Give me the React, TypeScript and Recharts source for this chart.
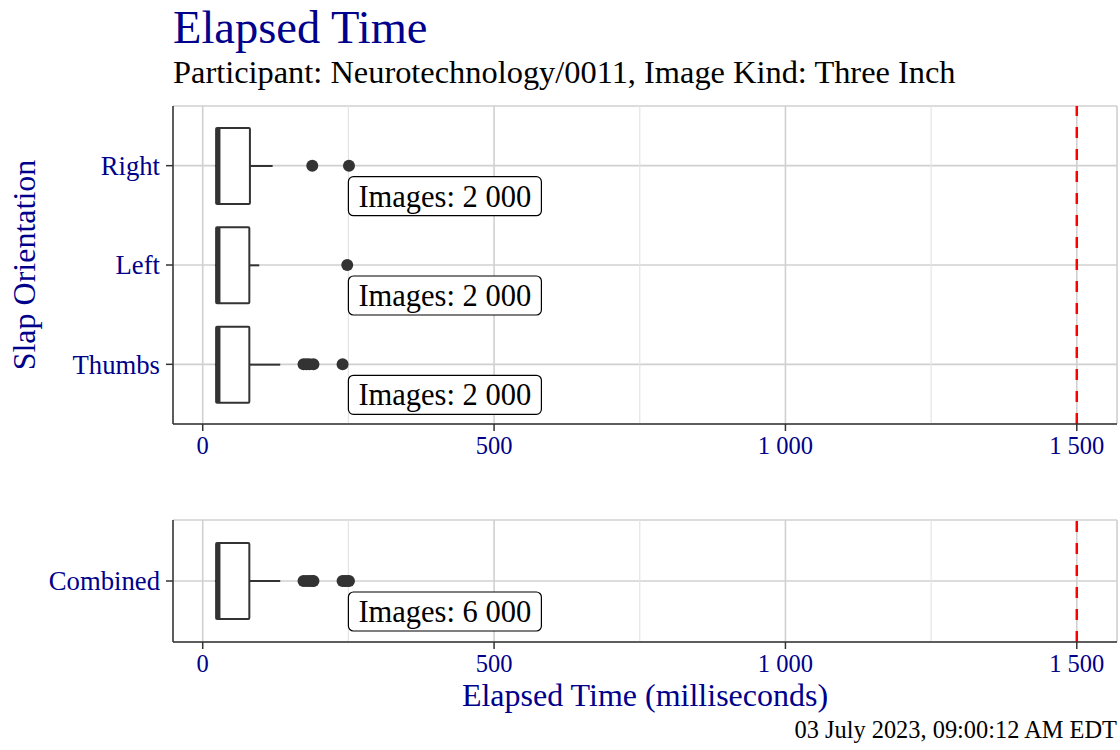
import {
  ComposedChart,
  Bar,
  XAxis,
  YAxis,
  CartesianGrid,
  ReferenceLine,
  ReferenceDot,
} from "recharts";

// slap orientation panel
const slapOrientations = ["Right", "Left", "Thumbs"];
const slapLower = [21, 21, 21];
const slapQ1 = [23, 23, 23];
const slapMedian = [27, 27, 27];
const slapQ3 = [81, 80, 80];
const slapUpper = [120, 97, 133];
const slapImages = [2000, 2000, 2000];
const rightOutliers = [188, 251];
const leftOutliers = [248];
const thumbsOutliers = [173, 178, 183, 190, 240];

// combined panel
const combinedCategory = ["Combined"];
const combinedLower = [21];
const combinedQ1 = [23];
const combinedMedian = [27];
const combinedQ3 = [80];
const combinedUpper = [133];
const combinedImages = [6000];
const combinedOutliers = [173, 178, 183, 188, 190, 240, 244, 248, 251];

const xTicks = [0, 500, 1000, 1500];
const xMinorTicks = [250, 750, 1250];
const xDomain = [-51, 1569];
const limitMs = 1500;
const labelAtMs = 250;

const FONT = "'Liberation Serif', 'DejaVu Serif', serif";
const BLUE = "#00008B";
const DARK = "#333333";

const fmt = (v: number) => String(v).replace(/\B(?=(\d{3})+(?!\d))/g, " ");

type Row = {
  cat: string;
  lower: number;
  q1: number;
  median: number;
  q3: number;
  upper: number;
  images: number;
};

const buildRows = (
  cats: string[],
  lower: number[],
  q1: number[],
  median: number[],
  q3: number[],
  upper: number[],
  images: number[]
): Row[] =>
  cats.map((cat, i) => ({
    cat,
    lower: lower[i],
    q1: q1[i],
    median: median[i],
    q3: q3[i],
    upper: upper[i],
    images: images[i],
  }));

const slapRows = buildRows(slapOrientations, slapLower, slapQ1, slapMedian, slapQ3, slapUpper, slapImages);
const combinedRows = buildRows(combinedCategory, combinedLower, combinedQ1, combinedMedian, combinedQ3, combinedUpper, combinedImages);

const slapOutliers = [
  ...rightOutliers.map((v) => ({ cat: "Right", v })),
  ...leftOutliers.map((v) => ({ cat: "Left", v })),
  ...thumbsOutliers.map((v) => ({ cat: "Thumbs", v })),
];
const combinedOutlierPts = combinedOutliers.map((v) => ({ cat: "Combined", v }));

// draws the box and whiskers inside the bar's [lower, upper] extent
function BoxShape(props: any) {
  const { x, y, width, height, payload } = props;
  if (x == null || !payload) return null;
  const { lower, q1, median, q3, upper } = payload as Row;
  const px = (v: number) => x + ((v - lower) / (upper - lower)) * width;
  const mid = y + height / 2;
  return (
    <g>
      <line x1={px(lower)} x2={px(q1)} y1={mid} y2={mid} stroke={DARK} strokeWidth={2} />
      <line x1={px(q3)} x2={px(upper)} y1={mid} y2={mid} stroke={DARK} strokeWidth={2} />
      <rect
        x={px(q1)}
        y={y}
        width={px(q3) - px(q1)}
        height={height}
        fill="#fff"
        stroke={DARK}
        strokeWidth={2}
        rx={1}
      />
      <line x1={px(median)} x2={px(median)} y1={y} y2={y + height} stroke={DARK} strokeWidth={4} />
    </g>
  );
}

function CountLabel({ cx, cy, text }: { cx: number; cy: number; text: string }) {
  return (
    <g>
      <rect x={cx} y={cy + 11} width={193} height={39} rx={5} fill="#fff" stroke="#000" strokeWidth={1.2} />
      <text x={cx + 10} y={cy + 41} fontFamily={FONT} fontSize={30.5} fill="#000">
        {text}
      </text>
    </g>
  );
}

interface PanelProps {
  rows: Row[];
  outliers: { cat: string; v: number }[];
  height: number;
  top: number;
}

function Panel({ rows, outliers, height, top }: PanelProps) {
  return (
    <ComposedChart
      layout="vertical"
      width={1120}
      height={height}
      data={rows}
      margin={{ top, right: 3, bottom: 0, left: 0 }}
    >
      <CartesianGrid stroke="#d0d0d0" strokeWidth={1.6} />
      {xMinorTicks.map((t) => (
        <ReferenceLine key={t} x={t} stroke="#e4e4e4" strokeWidth={1.2} />
      ))}
      <XAxis
        type="number"
        domain={xDomain}
        allowDataOverflow
        ticks={xTicks}
        tickFormatter={fmt}
        height={36}
        tickSize={7}
        tickMargin={6}
        axisLine={{ stroke: DARK, strokeWidth: 1.5 }}
        tickLine={{ stroke: DARK, strokeWidth: 1.5 }}
        tick={{ fill: BLUE, fontSize: 24.5, fontFamily: FONT }}
      />
      <XAxis
        xAxisId="top"
        orientation="top"
        type="number"
        domain={xDomain}
        allowDataOverflow
        height={0}
        tick={false}
        tickLine={false}
        axisLine={{ stroke: DARK, strokeWidth: 1.5 }}
      />
      <YAxis
        type="category"
        dataKey="cat"
        width={173}
        padding={{ top: 10, bottom: 10 }}
        tickSize={7}
        tickMargin={6}
        axisLine={{ stroke: DARK, strokeWidth: 1.5 }}
        tickLine={{ stroke: DARK, strokeWidth: 1.5 }}
        tick={{ fill: BLUE, fontSize: 26.7, fontFamily: FONT }}
      />
      <YAxis
        yAxisId="right"
        orientation="right"
        type="category"
        dataKey="cat"
        width={0}
        tick={false}
        tickLine={false}
        axisLine={{ stroke: DARK, strokeWidth: 1.5 }}
      />
      <ReferenceLine x={limitMs} stroke="#ff0000" strokeWidth={2.5} strokeDasharray="11 11" />
      <Bar
        dataKey={(d: Row) => [d.lower, d.upper]}
        barSize={76}
        shape={BoxShape}
        isAnimationActive={false}
      />
      {outliers.map((o, i) => (
        <ReferenceDot key={i} x={o.v} y={o.cat} r={6} fill={DARK} stroke="none" />
      ))}
      {rows.map((r) => (
        <ReferenceDot
          key={"lbl" + r.cat}
          x={labelAtMs}
          y={r.cat}
          r={0}
          shape={(p: any) => <CountLabel cx={p.cx} cy={p.cy} text={`Images: ${fmt(r.images)}`} />}
        />
      ))}
    </ComposedChart>
  );
}

export default function App() {
  return (
    <div style={{ position: "absolute", left: 0, top: 0, width: 1120, height: 750, background: "#fff" }}>
      <svg width={1120} height={750} style={{ position: "absolute", left: 0, top: 0 }}>
        <text x={173} y={43} fontFamily={FONT} fontSize={46.5} fill={BLUE}>
          Elapsed Time
        </text>
        <text x={173} y={83} fontFamily={FONT} fontSize={32.4} fill="#000">
          Participant: Neurotechnology/0011, Image Kind: Three Inch
        </text>
        <text
          x={35}
          y={265}
          transform="rotate(-90 35 265)"
          textAnchor="middle"
          fontFamily={FONT}
          fontSize={32}
          fill={BLUE}
        >
          Slap Orientation
        </text>
        <text x={645} y={706} textAnchor="middle" fontFamily={FONT} fontSize={32} fill={BLUE}>
          Elapsed Time (milliseconds)
        </text>
        <text x={1117} y={738} textAnchor="end" fontFamily={FONT} fontSize={24.4} fill="#000">
          03 July 2023, 09:00:12 AM EDT
        </text>
      </svg>
      <div style={{ position: "absolute", left: 0, top: 0 }}>
        <Panel rows={slapRows} outliers={slapOutliers} height={460} top={106} />
      </div>
      <div style={{ position: "absolute", left: 0, top: 480 }}>
        <Panel rows={combinedRows} outliers={combinedOutlierPts} height={198} top={40} />
      </div>
    </div>
  );
}
